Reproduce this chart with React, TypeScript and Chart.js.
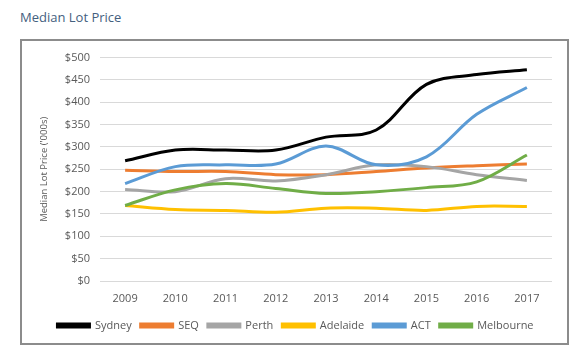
import React, { useEffect, useRef } from "react";
import { Chart, registerables } from "chart.js";

Chart.register(...registerables);

const years = ["2009", "2010", "2011", "2012", "2013", "2014", "2015", "2016", "2017"];
const sydney = [269, 293, 293, 293, 322, 338, 440, 462, 473];
const seq = [248, 245, 245, 238, 238, 245, 253, 258, 262];
const perth = [205, 200, 229, 224, 238, 260, 256, 238, 225];
const adelaide = [169, 160, 158, 154, 163, 163, 158, 167, 167];
const act = [218, 256, 260, 262, 302, 260, 278, 373, 433];
const melbourne = [169, 204, 218, 207, 196, 200, 209, 222, 282];

const seriesNames = ["Sydney", "SEQ", "Perth", "Adelaide", "ACT", "Melbourne"];
const seriesData = [sydney, seq, perth, adelaide, act, melbourne];
const seriesColors = ["#000000", "#ED7D31", "#A5A5A5", "#FFC000", "#5B9BD5", "#70AD47"];

const FONT = "'Open Sans', 'DejaVu Sans', sans-serif";

export default function App() {
  const canvasRef = useRef<HTMLCanvasElement | null>(null);

  useEffect(() => {
    const canvas = canvasRef.current;
    if (!canvas) return;
    const chart = new Chart(canvas, {
      type: "line",
      data: {
        labels: years,
        datasets: seriesNames.map((name, i) => ({
          label: name,
          data: seriesData[i],
          borderColor: seriesColors[i],
          backgroundColor: seriesColors[i],
          borderWidth: 3,
          pointRadius: 0,
          tension: 0.35,
          fill: false,
          order: seriesNames.length - i,
        })),
      },
      options: {
        animation: false,
        responsive: false,
        maintainAspectRatio: false,
        layout: { padding: { top: 12, right: 15, bottom: 2, left: 17 } },
        plugins: {
          tooltip: { enabled: false },
          legend: {
            position: "bottom",
            labels: {
              boxWidth: 32,
              boxHeight: 3,
              padding: 9,
              color: "#595959",
              font: { family: FONT, size: 11 },
              sort: (a: any, b: any) => a.datasetIndex - b.datasetIndex,
            },
          },
        },
        scales: {
          x: {
            offset: true,
            grid: { display: false },
            border: { display: false },
            ticks: { color: "#595959", font: { family: FONT, size: 11 }, padding: 3 },
            afterFit: (axis: any) => {
              axis.height = 30;
            },
          },
          y: {
            min: 0,
            max: 500,
            grid: { color: "#D9D9D9", drawTicks: false },
            border: { display: false },
            ticks: {
              stepSize: 50,
              color: "#595959",
              font: { family: FONT, size: 11 },
              padding: 10,
              callback: (v: any) => "$" + v,
            },
            title: {
              display: true,
              text: "Median Lot Price ('000s)",
              color: "#595959",
              font: { family: FONT, size: 9.5 },
              padding: 0,
            },
            afterFit: (axis: any) => {
              axis.width = 61;
            },
          },
        },
      },
    });
    return () => chart.destroy();
  }, []);

  return (
    <div style={{ position: "absolute", left: 0, top: 0, width: 580, height: 352, background: "#fff" }}>
      <div
        style={{
          position: "absolute",
          left: 20,
          top: 8,
          fontFamily: FONT,
          fontSize: 13,
          color: "#44607E",
        }}
      >
        Median Lot Price
      </div>
      <div
        style={{
          position: "absolute",
          left: 20,
          top: 39,
          width: 545,
          height: 302,
          border: "2px solid #8C8C8C",
        }}
      >
        <canvas ref={canvasRef} width={545} height={302} style={{ display: "block" }} />
      </div>
    </div>
  );
}
